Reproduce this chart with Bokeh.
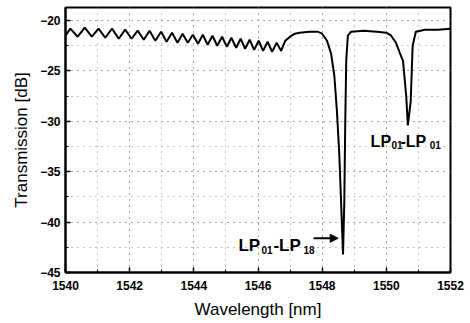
from bokeh.plotting import figure
from bokeh.models import Range1d, Label, Arrow, NormalHead, SingleIntervalTicker
from bokeh.embed import file_html
from bokeh.resources import INLINE

# Data
wavelength_nm = [
    1540.00, 1540.15, 1540.38, 1540.60, 1540.82, 1541.03, 1541.24, 1541.45,
    1541.66, 1541.86, 1542.06, 1542.25, 1542.44, 1542.62, 1542.80, 1542.98,
    1543.15, 1543.32, 1543.49, 1543.65, 1543.81, 1543.97, 1544.13, 1544.28,
    1544.43, 1544.58, 1544.73, 1544.88, 1545.03, 1545.17, 1545.32, 1545.46,
    1545.60, 1545.74, 1545.88, 1546.02, 1546.16, 1546.30, 1546.44, 1546.58,
    1546.72, 1546.85, 1547.00, 1547.15, 1547.30, 1547.60, 1547.85, 1548.00,
    1548.15, 1548.28, 1548.38, 1548.46, 1548.53, 1548.59, 1548.65, 1548.69,
    1548.72, 1548.75, 1548.80, 1548.90, 1549.30, 1549.70, 1550.00, 1550.15,
    1550.30, 1550.42, 1550.52, 1550.62, 1550.67, 1550.76, 1550.82, 1550.92,
    1551.20, 1551.60, 1552.00,
]
transmission_db = [
    -21.5, -20.8, -21.6, -20.7, -21.6, -20.8, -21.7, -20.8,
    -21.8, -20.9, -21.8, -21.0, -21.9, -21.0, -22.0, -21.1,
    -22.1, -21.2, -22.2, -21.3, -22.2, -21.4, -22.3, -21.4,
    -22.4, -21.5, -22.5, -21.6, -22.6, -21.7, -22.7, -21.8,
    -22.8, -21.9, -22.9, -22.0, -23.0, -22.1, -23.1, -22.2,
    -23.0, -22.0, -21.6, -21.3, -21.2, -21.1, -21.1, -21.3,
    -22.0, -23.3, -25.5, -29.0, -33.0, -38.0, -43.2, -38.0,
    -30.0, -24.0, -21.5, -21.1, -21.0, -21.1, -21.2, -21.5,
    -22.2, -23.2, -24.0, -27.5, -30.4, -28.0, -22.5, -21.1,
    -20.9, -20.9, -20.8,
]

FONT = "Liberation Sans"

p = figure(frame_width=385, frame_height=265, output_backend="svg",
           toolbar_location=None,
           x_range=Range1d(1540, 1552), y_range=Range1d(-45, -18.7),
           min_border_left=65, min_border_right=20, min_border_top=7,
           min_border_bottom=51)

p.background_fill_color = "white"
p.border_fill_color = "white"
p.outline_line_color = "black"
p.outline_line_width = 2

p.xaxis.ticker = SingleIntervalTicker(interval=2, num_minor_ticks=2)
p.yaxis.ticker = SingleIntervalTicker(interval=5, num_minor_ticks=2)

for ax in (p.xaxis[0], p.yaxis[0]):
    ax.axis_line_width = 2
    ax.axis_line_color = "black"
    ax.major_tick_in = 5
    ax.major_tick_out = 0
    ax.minor_tick_in = 3
    ax.minor_tick_out = 0
    ax.major_tick_line_width = 1.5
    ax.minor_tick_line_width = 1
    ax.major_label_text_font = FONT
    ax.major_label_text_font_size = "12px"
    ax.major_label_text_font_style = "bold"
    ax.major_label_text_color = "black"
    ax.axis_label_text_font = FONT
    ax.axis_label_text_font_size = "17px"
    ax.axis_label_text_font_style = "normal"
    ax.axis_label_text_color = "black"

p.xaxis.axis_label = "Wavelength [nm]"
p.yaxis.axis_label = "Transmission [dB]"
p.xaxis.major_label_standoff = 8
p.xaxis.axis_label_standoff = 7
p.yaxis.major_label_standoff = 5
p.yaxis.axis_label_standoff = 6

for g in (p.xgrid[0], p.ygrid[0]):
    g.grid_line_color = "#8a8a8a"
    g.grid_line_dash = "1 5"
    g.grid_line_width = 1
    g.minor_grid_line_color = "#8a8a8a"
    g.minor_grid_line_dash = "1 5"
    g.minor_grid_line_width = 1

p.line(wavelength_nm, transmission_db, color="black", line_width=2)

# Annotations
def lab(x, y, text, size):
    p.add_layout(Label(x=x, y=y, text=text, text_font=FONT,
                       text_font_size=size, text_font_style="bold",
                       text_color="black", text_align="left",
                       text_baseline="alphabetic"))

# LP01-LP18 (pointing to the deep dip)
lab(1545.39, -42.3, "LP", "17px")
lab(1546.11, -42.8, "01", "10px")
lab(1546.48, -42.3, "-LP", "17px")
lab(1547.42, -42.8, "18", "10px")
p.add_layout(Arrow(x_start=1547.73, y_start=-41.6, x_end=1548.50, y_end=-41.6,
                   line_color="black", line_width=2,
                   end=NormalHead(size=8, fill_color="black", line_color="black")))

# LP01-LP01 (second dip)
lab(1549.51, -32.0, "LP", "16px")
lab(1550.16, -32.3, "01", "10px")
lab(1550.44, -32.0, "-LP", "16px")
lab(1551.35, -32.3, "01", "10px")

open("out.html", "w").write(file_html(p, INLINE))
